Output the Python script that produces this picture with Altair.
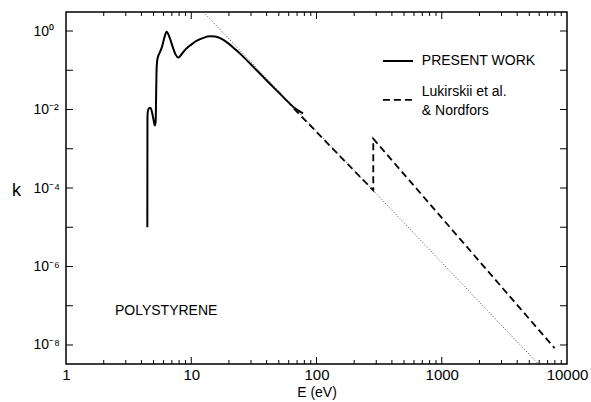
import altair as alt
import pandas as pd

# Present work: extinction coefficient k of polystyrene vs photon energy (eV)
present_E = [4.46, 4.47, 4.52, 4.62, 4.74, 4.86, 5.0, 5.12, 5.2, 5.24, 5.28, 5.34, 5.45,
             5.6, 5.85, 6.1, 6.36, 6.7, 7.1, 7.5, 7.9, 8.4, 9.0, 10.0, 11.0, 12.5,
             14.0, 15.5, 17.5, 20.0, 22.0, 25.0, 30.0, 35.0, 40.0, 50.0, 60.0, 70.0, 78.0]
present_k = [1.0e-5, 6.5e-3, 9.5e-3, 1.1e-2, 1.1e-2, 8.5e-3, 5.5e-3, 3.9e-3, 5.0e-3, 2.0e-2,
             9.0e-2, 0.17, 0.23, 0.28, 0.40, 0.68, 0.96, 0.70, 0.40, 0.25, 0.21, 0.26, 0.34,
             0.45, 0.56, 0.67, 0.73, 0.72, 0.63, 0.47, 0.36, 0.25, 0.14, 0.085, 0.055,
             0.027, 0.015, 0.0098, 0.0080]

# Lukirskii et al. & Nordfors
luk_E = [66, 284, 284, 7960]
luk_k = [0.0105, 8.7e-5, 1.8e-3, 8.3e-9]

# Power-law extrapolation (dotted)
tail_E = [12.5, 5900]
tail_k = [3.05, 3.28e-9]

# Axis ticks
x_label_vals = [1, 10, 100, 1000, 10000]
x_decade_ticks = [10, 100, 1000]
x_minor_ticks = [m * d for d in (1, 10, 100, 1000) for m in range(2, 10)]
y_label_vals = [1, 1e-2, 1e-4, 1e-6, 1e-8]
y_label_text = ["10⁰", "10⁻²", "10⁻⁴", "10⁻⁶", "10⁻⁸"]
y_decade_ticks = [1, 1e-1, 1e-2, 1e-3, 1e-4, 1e-5, 1e-6, 1e-7, 1e-8]

# Legend and annotation text
legend_line_E = [339, 590]
legend_solid_k = 0.172
legend_dash_k = 0.0175
note_text = ["PRESENT WORK", "Lukirskii et al.", "& Nordfors", "POLYSTYRENE"]
note_E = [693, 693, 693, 2.46]
note_k = [0.172, 0.0279, 0.0092, 7.4e-8]

W, H = 501, 352
FONT = "Liberation Sans"

xscale = alt.Scale(type="log", domain=[1, 10000], nice=False)
yscale = alt.Scale(type="log", domain=[3.28e-9, 3.05], nice=False)

label_expr = " : ".join(
    f"abs(log(datum.value)/LN10 - ({e})) < 0.1 ? '{t}'"
    for e, t in zip([0, -2, -4, -6, -8], y_label_text)
) + " : ''"

present = pd.DataFrame({"E": present_E, "k": present_k, "i": range(len(present_E))})
luk = pd.DataFrame({"E": luk_E, "k": luk_k, "i": range(len(luk_E))})
tail = pd.DataFrame({"E": tail_E, "k": tail_k})

x_ax = alt.Axis(values=x_label_vals, labelExpr="format(datum.value, 'd')", ticks=False,
                domain=False, grid=False, labelFontSize=15, labelFont=FONT,
                labelPadding=3, labelFlush=False, labelOverlap=False, labelColor="black",
                title="E (eV)", titleFont=FONT, titleFontSize=14, titleFontWeight="normal",
                titlePadding=3, titleColor="black")
y_ax = alt.Axis(values=y_label_vals, labelExpr=label_expr, ticks=False,
                domain=False, grid=False, labelFontSize=14, labelFont=FONT,
                labelAlign="left", labelBaseline="middle", labelPadding=33,
                labelOverlap=False, labelFlush=False, labelColor="black",
                title="k", titleFont=FONT, titleFontSize=18, titleFontWeight="normal",
                titleAngle=0, titleAlign="center", titleBaseline="middle",
                titleX=-50, titleY=178, titleColor="black")


def X(field):
    return alt.X(field, scale=xscale, axis=x_ax)


def Y(field):
    return alt.Y(field, scale=yscale, axis=y_ax)


solid = alt.Chart(present).mark_line(color="black", strokeWidth=2, interpolate="monotone").encode(
    x=X("E:Q"), y=Y("k:Q"), order="i:Q")

dashed = alt.Chart(luk).mark_line(color="black", strokeWidth=1.8, strokeDash=[7, 4]).encode(
    x=X("E:Q"), y=Y("k:Q"), order="i:Q")

dotted = alt.Chart(tail).mark_line(color="#444444", strokeWidth=1, strokeDash=[1, 2]).encode(
    x=X("E:Q"), y=Y("k:Q"))


# Inward tick marks on all four sides of the frame
def xticks(vals, y0, y1):
    return alt.Chart(pd.DataFrame({"E": vals})).mark_rule(color="black", strokeWidth=1).encode(
        x=X("E:Q"), y=alt.value(y0), y2=alt.value(y1))


def yticks(vals, x0, x1):
    return alt.Chart(pd.DataFrame({"k": vals})).mark_rule(color="black", strokeWidth=1).encode(
        y=Y("k:Q"), x=alt.value(x0), x2=alt.value(x1))


ticks = [
    xticks(x_minor_ticks, H, H - 4), xticks(x_decade_ticks, H, H - 7),
    xticks(x_minor_ticks, 0, 4), xticks(x_decade_ticks, 0, 7),
    yticks(y_decade_ticks, 0, 7), yticks(y_decade_ticks, W, W - 7),
]

# Legend samples
leg_solid = alt.Chart(pd.DataFrame({"E": legend_line_E, "k": [legend_solid_k] * 2})).mark_line(
    color="black", strokeWidth=2).encode(x=X("E:Q"), y=Y("k:Q"))
leg_dash = alt.Chart(pd.DataFrame({"E": legend_line_E, "k": [legend_dash_k] * 2})).mark_line(
    color="black", strokeWidth=1.8, strokeDash=[7, 4]).encode(x=X("E:Q"), y=Y("k:Q"))

notes = alt.Chart(pd.DataFrame({"E": note_E, "k": note_k, "txt": note_text})).mark_text(
    align="left", baseline="middle", font=FONT, fontSize=14, color="black").encode(
    x=X("E:Q"), y=Y("k:Q"), text="txt:N")

chart = alt.layer(solid, dashed, dotted, *ticks, leg_solid, leg_dash, notes).properties(
    width=W, height=H,
    autosize=alt.AutoSizeParams(type="none"),
    padding={"left": 66, "top": 12, "right": 24, "bottom": 38},
    background="white",
).configure_view(stroke="black", strokeWidth=1.5)

chart.save("out.html", embed_options={"renderer": "svg", "actions": False})
